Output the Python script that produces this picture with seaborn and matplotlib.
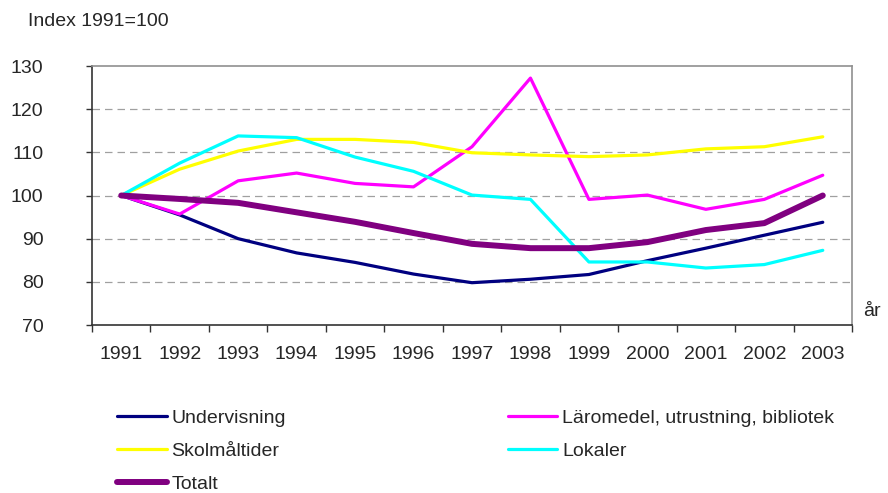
import numpy as np
import pandas as pd
import seaborn as sns
import matplotlib.pyplot as plt

# Data (Index 1991=100)
years = ['1991', '1992', '1993', '1994', '1995', '1996', '1997',
         '1998', '1999', '2000', '2001', '2002', '2003']
undervisning = [100, 95.5, 90.0, 86.7, 84.5, 81.8, 79.8, 80.6, 81.7, 84.9, 87.8, 90.8, 93.8]
skolmaltider = [100, 106.1, 110.3, 113.0, 113.0, 112.3, 109.9, 109.4, 109.0, 109.4, 110.8, 111.3, 113.6]
laromedel = [100, 95.7, 103.4, 105.2, 102.8, 102.0, 111.3, 127.2, 99.1, 100.1, 96.8, 99.1, 104.7]
lokaler = [100, 107.5, 113.8, 113.4, 108.9, 105.6, 100.1, 99.1, 84.6, 84.6, 83.2, 84.0, 87.3]
totalt = [100, 99.2, 98.3, 96.1, 93.9, 91.3, 88.8, 87.8, 87.8, 89.2, 92.0, 93.6, 100]

series = ['Undervisning', 'Läromedel, utrustning, bibliotek', 'Skolmåltider', 'Lokaler', 'Totalt']
colors = ['#000080', '#FF00FF', '#FFFF00', '#00FFFF', '#800080']
widths = [2.3, 2.3, 2.3, 2.3, 4.3]

df = pd.DataFrame({
    'pos': np.arange(len(years)),
    'Undervisning': undervisning,
    'Läromedel, utrustning, bibliotek': laromedel,
    'Skolmåltider': skolmaltider,
    'Lokaler': lokaler,
    'Totalt': totalt,
})

sns.set_style('white')
plt.rcParams['font.family'] = ['Liberation Sans', 'DejaVu Sans']
fs = 14

fig = plt.figure(figsize=(8.88, 4.93), dpi=100)
ax = fig.add_axes([92 / 888, 1 - 325 / 493, 760 / 888, 259 / 493])

for name, c, w in zip(series, colors, widths):
    sns.lineplot(data=df, x='pos', y=name, color=c, linewidth=w, ax=ax, label=name)

ax.set_xlim(-0.5, len(years) - 0.5)
ax.set_ylim(70, 130)
ax.set_yticks(range(70, 131, 10))
ax.tick_params(axis='y', labelsize=fs, length=4, width=1, color='#333333', pad=31, left=True)

ax.set_xticks(np.arange(len(years)))
ax.set_xticklabels(years)
ax.set_xticks(np.arange(-0.5, len(years), 1), minor=True)
ax.tick_params(axis='x', which='major', length=0, labelsize=fs, pad=15)
ax.tick_params(axis='x', which='minor', length=5, width=1, color='#333333', bottom=True)
ax.set_xlabel('')
ax.set_ylabel('')

for v in [80, 90, 100, 110, 120]:
    ax.axhline(v, color='#A0A0A0', linestyle=(0, (6, 4)), linewidth=0.9, zorder=0)

for s in ['top', 'right']:
    ax.spines[s].set_color('#909090')
    ax.spines[s].set_linewidth(1.2)
for s in ['left', 'bottom']:
    ax.spines[s].set_color('#333333')
    ax.spines[s].set_linewidth(1.2)

fig.text(28 / 888, 1 - 21 / 493, 'Index 1991=100', fontsize=fs, va='center', ha='left')
fig.text(863 / 888, 1 - 312 / 493, 'år', fontsize=fs, va='center', ha='left')

h, l = ax.get_legend_handles_labels()
ax.get_legend().remove()
order = [0, 2, 4, 1, 3]
fig.legend([h[i] for i in order], [l[i] for i in order], ncol=2,
           loc='upper left', bbox_to_anchor=(117 / 888, 1 - 409 / 493),
           frameon=False, fontsize=fs, handlelength=2.55, handletextpad=0.25,
           columnspacing=11.4, labelspacing=0.8, borderpad=0, borderaxespad=0)

fig.savefig('out.png', dpi=100)
